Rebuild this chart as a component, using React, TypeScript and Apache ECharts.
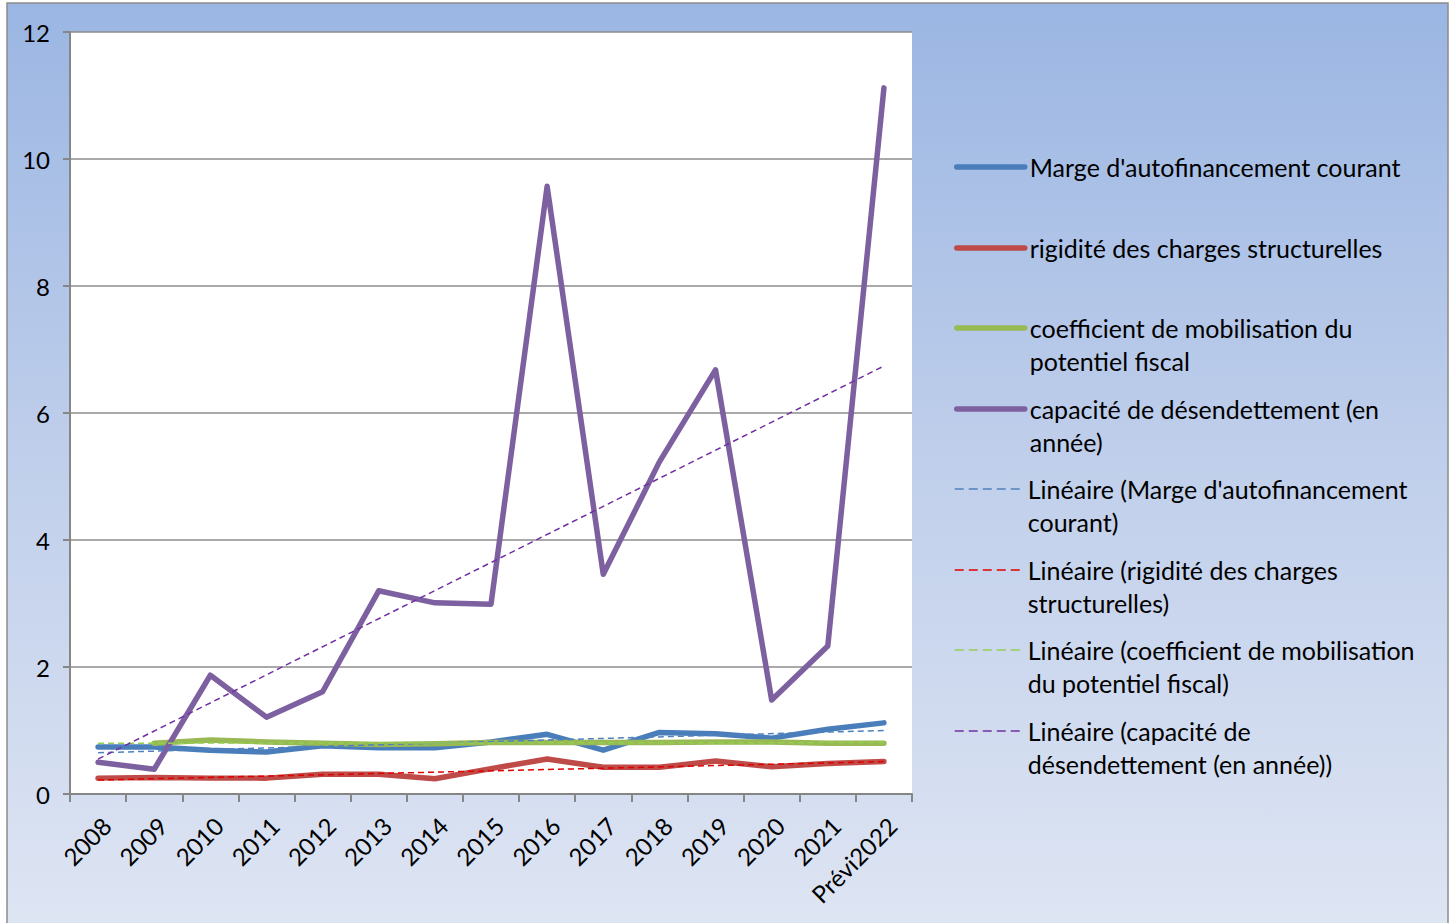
import React, { useEffect, useRef } from "react";
import * as echarts from "echarts";

const categories = ["2008", "2009", "2010", "2011", "2012", "2013", "2014", "2015", "2016", "2017", "2018", "2019", "2020", "2021", "Prévi2022"];
const yTicks = [0, 2, 4, 6, 8, 10, 12];

const margeAutofinancement = [0.74, 0.74, 0.69, 0.66, 0.76, 0.73, 0.73, 0.82, 0.94, 0.69, 0.97, 0.95, 0.88, 1.02, 1.12];
const rigiditeCharges = [0.25, 0.26, 0.25, 0.25, 0.31, 0.31, 0.24, 0.4, 0.55, 0.42, 0.42, 0.52, 0.43, 0.48, 0.51];
const coefficientMobilisation = [null, 0.8, 0.85, 0.82, 0.8, 0.78, 0.79, 0.81, 0.81, 0.81, 0.81, 0.82, 0.82, 0.8, 0.8];
const capaciteDesendettement = [0.5, 0.39, 1.87, 1.21, 1.61, 3.2, 3.01, 2.99, 9.57, 3.46, 5.23, 6.68, 1.48, 2.33, 11.12];

// trend-line end values (first category, last category)
const trendMarge = [0.65, 1.0];
const trendRigidite = [0.22, 0.51];
const trendCoefficient = [0.8, 0.81];
const trendCapacite = [0.55, 6.74];

const FONT = "Lato";

const seriesDefs = [
  { name: "Marge d'autofinancement courant", label: "Marge d'autofinancement courant", data: margeAutofinancement, color: "#4A7EBB", dashed: false },
  { name: "rigidité des charges structurelles", label: "rigidité des charges structurelles", data: rigiditeCharges, color: "#BE4B48", dashed: false },
  { name: "coefficient de mobilisation du potentiel fiscal", label: "coefficient de mobilisation du\npotentiel fiscal", data: coefficientMobilisation, color: "#98B954", dashed: false },
  { name: "capacité de désendettement (en année)", label: "capacité de désendettement (en\nannée)", data: capaciteDesendettement, color: "#7D60A0", dashed: false },
  { name: "Linéaire (Marge d'autofinancement courant)", label: "Linéaire (Marge d'autofinancement\ncourant)", ends: trendMarge, color: "#4F81BD", dashed: true },
  { name: "Linéaire (rigidité des charges structurelles)", label: "Linéaire (rigidité des charges\nstructurelles)", ends: trendRigidite, color: "#E00000", dashed: true },
  { name: "Linéaire (coefficient de mobilisation du potentiel fiscal)", label: "Linéaire (coefficient de mobilisation\ndu potentiel fiscal)", ends: trendCoefficient, color: "#92D050", dashed: true },
  { name: "Linéaire (capacité de désendettement (en année))", label: "Linéaire (capacité de\ndésendettement (en année))", ends: trendCapacite, color: "#7030A0", dashed: true },
];

function trendData(ends: number[]) {
  const d: (number | null)[] = categories.map(() => null);
  d[0] = ends[0];
  d[d.length - 1] = ends[1];
  return d;
}

export default function App() {
  const ref = useRef<HTMLDivElement>(null);
  useEffect(() => {
    if (!ref.current) return;
    const chart = echarts.init(ref.current, null, { renderer: "svg" });
    const firstLineY = [167, 248, 328, 409, 489, 570, 650, 731];
    const LH = 32.5;
    const series = seriesDefs.map((s: any) => ({
      name: s.name,
      type: "line",
      data: s.dashed ? trendData(s.ends) : s.data,
      connectNulls: s.dashed,
      symbol: "none",
      showSymbol: false,
      z: s.dashed ? 3 : 2,
      color: s.color,
      lineStyle: s.dashed
        ? { color: s.color, width: 1.5, type: [6, 4] }
        : { color: s.color, width: 5.5, cap: "round", join: "round" },
    }));
    const legends = seriesDefs.map((s: any, i: number) => {
      const wrapped = s.label.indexOf("\n") >= 0;
      return {
        data: [s.name],
        left: 954,
        top: firstLineY[i] - LH / 2 - (wrapped ? LH : 0),
        orient: "vertical",
        padding: 0,
        itemWidth: 68,
        itemHeight: 14,
        selectedMode: false,
        formatter: () => (wrapped ? "\n" + s.label : s.label),
        textStyle: {
          fontFamily: FONT,
          fontSize: 25,
          color: "#000",
          lineHeight: LH,
        },
        itemStyle: { opacity: 0 },
        lineStyle: s.dashed
          ? { color: s.color, width: 1.5, type: [9, 5] }
          : { color: s.color, width: 5.5, type: "solid", cap: "round" },
      };
    });
    chart.setOption({
      animation: false,
      textStyle: { fontFamily: FONT },
      graphic: [
        {
          type: "rect",
          z: -10,
          silent: true,
          shape: { x: 7, y: 3, width: 1441, height: 925 },
          style: {
            stroke: "#8C8C8C",
            lineWidth: 1.5,
            fill: new echarts.graphic.LinearGradient(0, 0, 0, 1, [
              { offset: 0, color: "#9BB6E3" },
              { offset: 0.5, color: "#C0CFEB" },
              { offset: 1, color: "#DEE5F3" },
            ]),
          },
        },
      ],
      grid: {
        left: 70,
        top: 32,
        right: 1449 - 912,
        bottom: 923 - 794,
        show: true,
        backgroundColor: "#FFFFFF",
        borderWidth: 0,
      },
      xAxis: {
        type: "category",
        data: categories,
        boundaryGap: true,
        axisLine: { lineStyle: { color: "#868686", width: 2 } },
        axisTick: { show: true, length: 8, lineStyle: { color: "#868686", width: 2 } },
        axisLabel: { rotate: 45, fontSize: 24, color: "#000", margin: 19, verticalAlign: "top", fontFamily: FONT, interval: 0 },
      },
      yAxis: {
        type: "value",
        min: yTicks[0],
        max: yTicks[yTicks.length - 1],
        interval: 2,
        axisLine: { show: true, lineStyle: { color: "#868686", width: 2 } },
        axisTick: { show: true, length: 7, lineStyle: { color: "#868686", width: 2 } },
        axisLabel: { fontSize: 24, color: "#000", margin: 20, fontFamily: FONT },
        splitLine: { lineStyle: { color: "#8C8C8C", width: 1.5 } },
      },
      legend: legends,
      series,
    });
    return () => chart.dispose();
  }, []);
  return <div ref={ref} style={{ position: "absolute", left: 0, top: 0, width: 1449, height: 923 }} />;
}
